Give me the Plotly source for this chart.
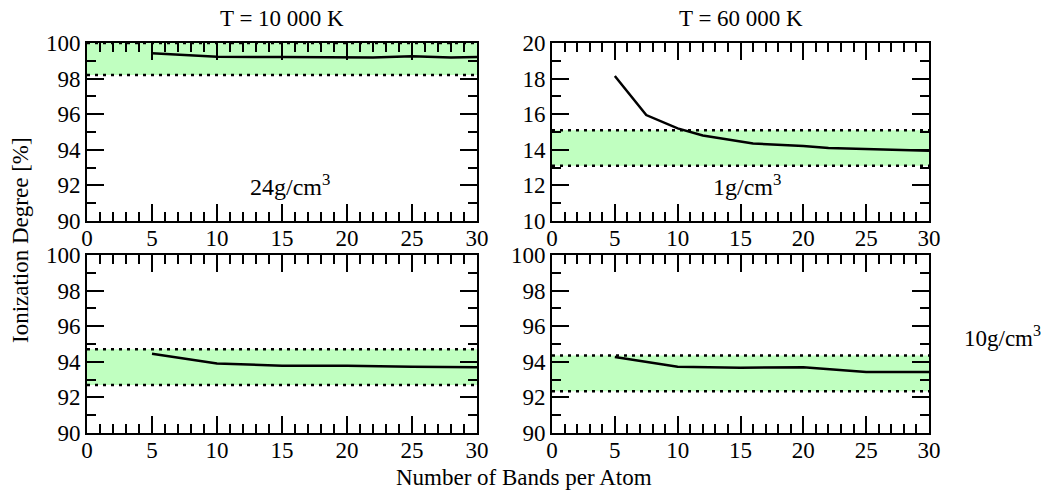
import plotly.graph_objects as go

# Ionization degree vs. number of bands per atom, four temperature/density cases
bands_tl = [5, 10, 15, 20, 22, 25, 28, 30]
ion_tl = [99.42, 99.23, 99.21, 99.20, 99.19, 99.25, 99.18, 99.21]
band_tl = [98.2, 100.0]

bands_tr = [5, 7.5, 10, 12, 16, 20, 22, 25, 30]
ion_tr = [18.15, 15.95, 15.2, 14.8, 14.35, 14.22, 14.1, 14.05, 13.95]
band_tr = [13.1, 15.1]

bands_bl = [5, 10, 15, 20, 25, 30]
ion_bl = [94.45, 93.9, 93.78, 93.78, 93.72, 93.7]
band_bl = [92.7, 94.7]

bands_br = [5, 10, 15, 20, 25, 30]
ion_br = [94.27, 93.72, 93.67, 93.7, 93.42, 93.43]
band_br = [92.35, 94.35]

x_range = [0, 30]
y_ranges = [[90, 100], [10, 20], [90, 100], [90, 100]]

col_titles = ["T = 10 000 K", "T = 60 000 K"]
density_labels = ["24g/cm<sup>3</sup>", "1g/cm<sup>3</sup>", "10g/cm<sup>3</sup>"]
x_title = "Number of Bands per Atom"
y_title = "Ionization Degree [%]"

W, H = 1041, 492
FONT = "Liberation Serif, Times New Roman, serif"
FILL = "#c0ffc0"

# panel pixel boxes: (left, right, top, bottom)
boxes = [(87, 477, 43, 221), (552, 929, 43, 221),
         (87, 477, 255, 433), (552, 929, 255, 433)]

panels = [
    (bands_tl, ion_tl, band_tl),
    (bands_tr, ion_tr, band_tr),
    (bands_bl, ion_bl, band_bl),
    (bands_br, ion_br, band_br),
]

fig = go.Figure()
layout = {}
for i, ((bx, by, band), box) in enumerate(zip(panels, boxes)):
    n = "" if i == 0 else str(i + 1)
    xa, ya = "x" + n, "y" + n
    # shaded band between the two dotted limits
    fig.add_trace(go.Scatter(x=x_range, y=[band[0]] * 2, mode="lines",
                             line=dict(width=0, color=FILL), xaxis=xa, yaxis=ya,
                             showlegend=False, hoverinfo="skip"))
    fig.add_trace(go.Scatter(x=x_range, y=[band[1]] * 2, mode="lines", fill="tonexty",
                             fillcolor=FILL, line=dict(width=0, color=FILL),
                             xaxis=xa, yaxis=ya, showlegend=False, hoverinfo="skip"))
    for lvl in band:
        fig.add_trace(go.Scatter(x=x_range, y=[lvl] * 2, mode="lines",
                                 line=dict(width=2.5, color="black", dash="3px,5px"),
                                 xaxis=xa, yaxis=ya, showlegend=False, hoverinfo="skip"))
    fig.add_trace(go.Scatter(x=bx, y=by, mode="lines",
                             line=dict(width=2.5, color="black"),
                             xaxis=xa, yaxis=ya, showlegend=False))

    l, r, t, b = box
    common = dict(showline=True, linecolor="black", linewidth=2, mirror="allticks",
                  ticks="inside", tickcolor="black", tickwidth=2, ticklen=17,
                  showgrid=False, zeroline=False, automargin=False,
                  tickfont=dict(family=FONT, size=23, color="black"))
    layout["xaxis" + n] = dict(common, domain=[l / W, r / W], range=x_range,
                               anchor=ya, tick0=0, dtick=5, ticklabelstandoff=-5,
                               minor=dict(ticks="inside", dtick=1, ticklen=9,
                                          tickwidth=1.5, tickcolor="black"))
    layout["yaxis" + n] = dict(common, domain=[1 - b / H, 1 - t / H], range=y_ranges[i],
                               anchor=xa, dtick=2,
                               minor=dict(ticks="inside", dtick=1, ticklen=9,
                                          tickwidth=1.5, tickcolor="black"))


def label(text, x, y, xref="paper", yref="paper", size=23, **kw):
    return dict(text=text, x=x, y=y, xref=xref, yref=yref, showarrow=False,
                xanchor=kw.pop("xanchor", "center"), yanchor="middle",
                font=dict(family=FONT, size=size, color="black"), **kw)


annotations = [
    label(col_titles[0], 282 / W, 1 - 18 / H, size=23),
    label(col_titles[1], 741 / W, 1 - 18 / H, size=23),
    label(density_labels[0], 15.6, 92.0, xref="x", yref="y", size=24),
    label(density_labels[1], 15.5, 12.0, xref="x2", yref="y2", size=24),
    label(density_labels[2], 962 / W, 1 - 336 / H, size=23, xanchor="left"),
    label(x_title, 524 / W, 1 - 477 / H, size=23),
    label(y_title, 20 / W, 1 - 240 / H, size=23, textangle=-90),
]

fig.update_layout(template="none", width=W, height=H,
                  margin=dict(l=0, r=0, t=0, b=0, autoexpand=False),
                  paper_bgcolor="white", plot_bgcolor="white",
                  annotations=annotations, showlegend=False, **layout)

fig.write_html("out.html")
